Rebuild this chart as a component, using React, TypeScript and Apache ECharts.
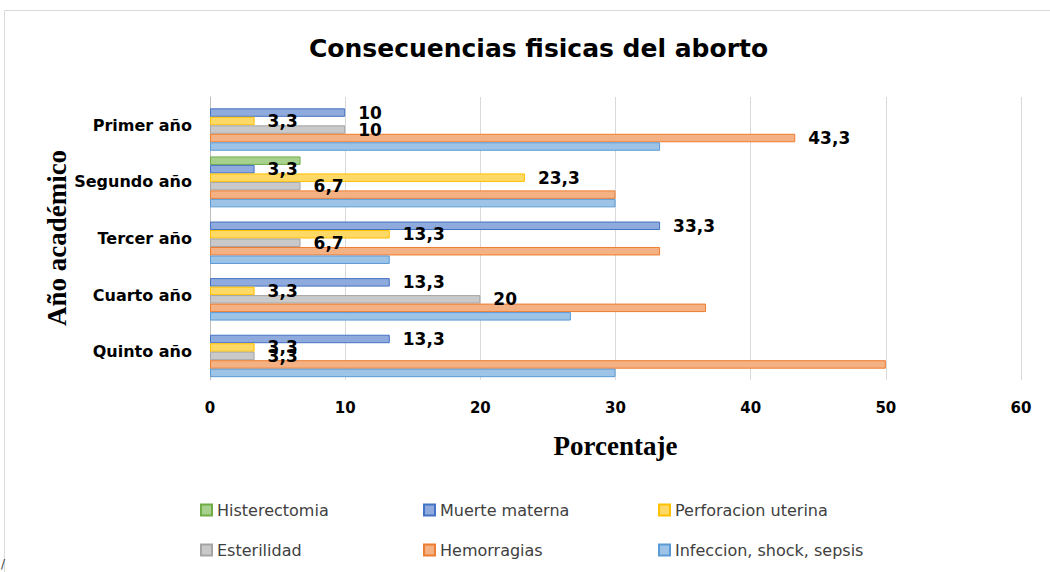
import React, { useEffect, useRef } from "react";
import * as echarts from "echarts";

const categories = ["Primer año", "Segundo año", "Tercer año", "Cuarto año", "Quinto año"];
const seriesNames = [
  "Histerectomia",
  "Muerte materna",
  "Perforacion uterina",
  "Esterilidad",
  "Hemorragias",
  "Infeccion, shock, sepsis",
];
const histerectomia = [0, 6.7, 0, 0, 0];
const muerteMaterna = [10, 3.3, 33.3, 13.3, 13.3];
const perforacion = [3.3, 23.3, 13.3, 3.3, 3.3];
const esterilidad = [10, 6.7, 6.7, 20, 3.3];
const hemorragias = [43.3, 30, 33.3, 36.7, 50];
const infeccion = [33.3, 30, 13.3, 26.7, 30];
// which data points carry a value label
const labelShown = [
  [false, false, false, false, false],
  [true, true, true, true, true],
  [true, true, true, true, true],
  [true, true, true, true, true],
  [true, false, false, false, false],
  [false, false, false, false, false],
];
const xTicks = [0, 10, 20, 30, 40, 50, 60];
const yAxisTitle = "Año académico";

const fills = ["#a9d18e", "#8faadc", "#ffd966", "#c9c9c9", "#f4b183", "#9dc3e6"];
const borders = ["#70ad47", "#4472c4", "#ffc000", "#a5a5a5", "#ed7d31", "#5b9bd5"];

const SANS = "'DejaVu Sans', 'Liberation Sans', sans-serif";
const SERIF = "'Liberation Serif', 'Times New Roman', serif";

export default function App() {
  const ref = useRef<HTMLDivElement>(null);
  useEffect(() => {
    document.body.style.margin = "0";
    const chart = echarts.init(ref.current!, null, { renderer: "svg" });
    const values = [histerectomia, muerteMaterna, perforacion, esterilidad, hemorragias, infeccion];
    const series = seriesNames.map((name, si) => ({
      name,
      type: "bar",
      barGap: "0%",
      barCategoryGap: "10%",
      itemStyle: { color: fills[si], borderColor: borders[si], borderWidth: 1 },
      data: values[si].map((v, ci) => ({
        value: v === 0 ? null : v,
        label: {
          show: labelShown[si][ci] && v > 0,
          position: "right",
          distance: 13,
          fontFamily: SANS,
          fontWeight: "bold",
          fontSize: 17,
          color: "#000",
          formatter: (p: any) => String(p.value).replace(".", ","),
        },
      })),
    }));
    const legendPos = [
      { left: 195, top: 497 },
      { left: 418, top: 497 },
      { left: 653, top: 497 },
      { left: 195, top: 537 },
      { left: 418, top: 537 },
      { left: 653, top: 537 },
    ];
    const legends = seriesNames.map((n, i) => ({
      data: [n],
      left: legendPos[i].left,
      top: legendPos[i].top,
      itemWidth: 11,
      itemHeight: 11,
      itemGap: 6,
      icon: "rect",
      textStyle: { fontFamily: SANS, fontSize: 16, color: "#404040" },
    }));
    chart.setOption({
      animation: false,
      backgroundColor: "#fff",
      title: {
        text: "Consecuencias fisicas del aborto",
        left: 304,
        top: 31,
        textStyle: { fontFamily: SANS, fontWeight: "bold", fontSize: 25, color: "#000" },
      },
      legend: legends,
      grid: { left: 210, right: 29, top: 97, bottom: 192 },
      xAxis: {
        type: "value",
        min: 0,
        max: 60,
        interval: 10,
        name: "Porcentaje",
        nameLocation: "middle",
        nameGap: 52,
        nameTextStyle: { fontFamily: SERIF, fontWeight: "bold", fontSize: 27, color: "#000" },
        axisLine: { show: false },
        axisTick: { show: false },
        axisLabel: {
          fontFamily: SANS,
          fontWeight: "bold",
          fontSize: 15,
          color: "#000",
          margin: 20,
          formatter: (v: number) => (xTicks.includes(v) ? String(v) : ""),
        },
        splitLine: { lineStyle: { color: "#d9d9d9", width: 1 } },
      },
      yAxis: {
        type: "category",
        data: categories,
        inverse: true,
        axisLine: { show: true, lineStyle: { color: "#bfbfbf" } },
        axisTick: { show: false },
        axisLabel: { fontFamily: SANS, fontWeight: "bold", fontSize: 16, color: "#000", margin: 18 },
      },
      graphic: [
        {
          type: "rect",
          shape: { x: 4.5, y: 10.5, width: 1050, height: 570 },
          style: { fill: "none", stroke: "#d9d9d9", lineWidth: 1 },
          silent: true,
        },
        {
          type: "text",
          x: 57,
          y: 238,
          rotation: Math.PI / 2,
          style: {
            text: yAxisTitle,
            fontFamily: SERIF,
            fontWeight: "bold",
            fontSize: 27,
            fill: "#000",
            align: "center",
            verticalAlign: "middle",
          },
        },
        {
          type: "text",
          left: 1,
          top: 558,
          style: { text: "/", fontFamily: SANS, fontSize: 12, fill: "#404040" },
        },
      ],
      series,
    });
    return () => chart.dispose();
  }, []);
  return <div ref={ref} style={{ width: 1050, height: 572 }} />;
}
